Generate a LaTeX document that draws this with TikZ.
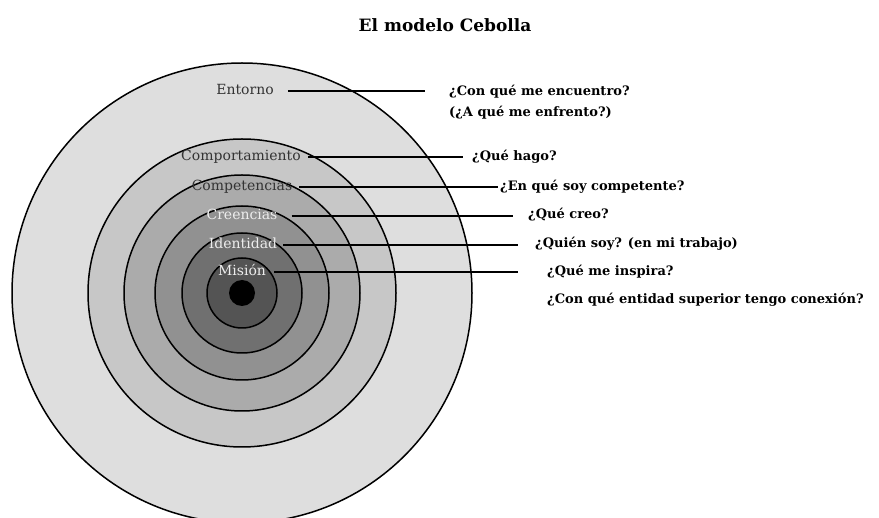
\documentclass[tikz,border=0pt]{standalone}
\usepackage{fontspec}
\setmainfont{DejaVu Serif}
\usepackage{tikz}

\definecolor{capaA}{gray}{0.87}
\definecolor{capaB}{gray}{0.78}
\definecolor{capaC}{gray}{0.67}
\definecolor{capaD}{gray}{0.57}
\definecolor{capaE}{gray}{0.44}
\definecolor{capaF}{gray}{0.33}
\definecolor{oscuro}{gray}{0.2}
\definecolor{claro}{gray}{0.93}

\tikzset{
  capa/.style={draw=black, line width=1.5pt},
  etiqueta/.style={font=\fontsize{14}{16}\selectfont, inner sep=0pt, text height=10pt, text depth=3pt},
  pregunta/.style={font=\bfseries\fontsize{13}{15}\selectfont, anchor=west, inner sep=0pt, text height=10pt, text depth=3pt},
  enlace/.style={line width=1.5pt}
}

\begin{document}
\begin{tikzpicture}[x=1pt,y=-1pt]
\useasboundingbox[fill=white] (0,0) rectangle (879,518);

%% title
\node[font=\bfseries\fontsize{17}{20}\selectfont] (titulo) at (445,25) {El modelo Cebolla};

%% layers
\coordinate (c) at (242,293);
\draw[capa, fill=capaA] (c) circle (230pt);   %% entorno
\draw[capa, fill=capaB] (c) circle (154pt);   %% comportamiento
\draw[capa, fill=capaC] (c) circle (118pt);   %% competencias
\draw[capa, fill=capaD] (c) circle (87pt);    %% creencias
\draw[capa, fill=capaE] (c) circle (60pt);    %% identidad
\draw[capa, fill=capaF] (c) circle (35pt);    %% mision
\fill[black] (c) circle (13pt);               %% centro

%% layer labels
\node[etiqueta, text=oscuro] (entorno) at (245,91)  {Entorno};
\node[etiqueta, text=oscuro] (comp)    at (241,157) {Comportamiento};
\node[etiqueta, text=oscuro] (compet)  at (242,187) {Competencias};
\node[etiqueta, text=claro]  (cree)    at (242,216) {Creencias};
\node[etiqueta, text=claro]  (ident)   at (243,245) {Identidad};
\node[etiqueta, text=claro]  (mision)  at (242,272) {Misión};

%% questions
\node[pregunta] (qentorno)  at (449,92)  {¿Con qué me encuentro?};
\node[pregunta] (qentornob) at (449,113) {(¿A qué me enfrento?)};
\node[pregunta] (qcomp)     at (472,157) {¿Qué hago?};
\node[pregunta] (qcompet)   at (500,187) {¿En qué soy competente?};
\node[pregunta] (qcree)     at (528,215) {¿Qué creo?};
\node[pregunta] (qident)    at (535,244) {¿Quién soy? (en mi trabajo)};
\node[pregunta] (qmision)   at (547,272) {¿Qué me inspira?};
\node[pregunta] (qmisionb)  at (547,300) {¿Con qué entidad superior tengo conexión?};

%% connectors
\draw[enlace] ([xshift=14pt]entorno.east) -- ([xshift=-24pt]qentorno.west |- entorno.east);
\draw[enlace] ([xshift=7pt]comp.east)     -- ([xshift=-9pt]qcomp.west |- comp.east);
\draw[enlace] ([xshift=7pt]compet.east)   -- ([xshift=-2pt]qcompet.west |- compet.east);
\draw[enlace] ([xshift=14pt]cree.east)    -- ([xshift=-15pt]qcree.west |- cree.east);
\draw[enlace] ([xshift=6pt]ident.east)    -- ([xshift=-17pt]qident.west |- ident.east);
\draw[enlace] ([xshift=8pt]mision.east)   -- ([xshift=-29pt]qmision.west |- mision.east);
\end{tikzpicture}
\end{document}
